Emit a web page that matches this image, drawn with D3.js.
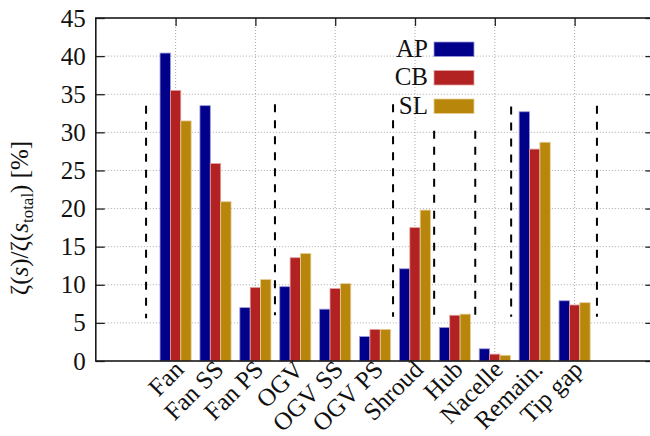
<!DOCTYPE html>
<html>
<head>
<meta charset="utf-8">
<script src="https://cdn.jsdelivr.net/npm/d3@7"></script>
<style>
  html, body { margin: 0; padding: 0; background: #fff; }
  svg { display: block; }
</style>
</head>
<body>
<svg id="chart" width="650" height="436"></svg>
<script>
// Loss-share data per component, three cases
const categories = ["Fan", "Fan SS", "Fan PS", "OGV", "OGV SS", "OGV PS",
                    "Shroud", "Hub", "Nacelle", "Remain.", "Tip gap"];
const seriesNames = ["AP", "CB", "SL"];
const apValues = [40.4, 33.5, 7.0, 9.75, 6.8, 3.2, 12.1, 4.4, 1.6, 32.7, 7.9];
const cbValues = [35.5, 25.9, 9.65, 13.55, 9.5, 4.15, 17.5, 6.0, 0.9, 27.8, 7.35];
const slValues = [31.5, 20.9, 10.7, 14.1, 10.15, 4.15, 19.8, 6.15, 0.75, 28.7, 7.65];
const yTicks = [0, 5, 10, 15, 20, 25, 30, 35, 40, 45];
const xGridTicks = [0, 2, 4, 6, 8, 10];
// Dashed separators: position on the category axis, upper and lower end
const sepX    = [-0.74, 2.49, 5.45, 6.48, 7.51, 8.41, 10.56];
const sepTop  = [33.5, 33.7, 33.7, 30.2, 30.2, 33.4, 33.5];
const sepBot  = [5.6, 6.0, 5.8, 6.0, 6.0, 5.8, 5.8];

const colors = ["#00008B", "#B22222", "#B8860B"];
const edgeColors = ["#9a9ad8", "#e2a0a0", "#e6cf98"];
const textFont = '"Liberation Serif"';

const svg = d3.select("#chart");
const plotL = 95.8, plotR = 654.4, plotT = 18, plotB = 361;

const x = d3.scaleLinear().domain([-2, 12]).range([plotL, plotR]);
const y = d3.scaleLinear().domain([0, 45]).range([plotB, plotT]);

const series = [apValues, cbValues, slValues];
const barW = 0.26;
const offsets = [-barW, 0, barW];

// dotted grid
const grid = svg.append("g").attr("stroke", "#a8a8a8").attr("stroke-width", 1)
  .attr("stroke-dasharray", "1,2");
grid.selectAll("line.h").data(yTicks.filter(v => v > 0 && v < 45)).join("line")
  .attr("class", "h")
  .attr("x1", plotL).attr("x2", plotR)
  .attr("y1", d => y(d)).attr("y2", d => y(d));
grid.selectAll("line.v").data(xGridTicks).join("line")
  .attr("class", "v")
  .attr("x1", d => x(d)).attr("x2", d => x(d))
  .attr("y1", plotT).attr("y2", plotB);

// axes with inward ticks
const fontSize = 25;
const yAxis = d3.axisLeft(y).tickValues(yTicks).tickSize(-9).tickPadding(10);
const gy = svg.append("g").attr("transform", `translate(${plotL},0)`).call(yAxis);
gy.select(".domain").remove();
gy.attr("font-family", null).attr("font-size", null);
gy.selectAll("text").style("font-family", textFont).style("font-size", fontSize + "px")
  .attr("fill", "#111");

const yAxisR = d3.axisRight(y).tickValues(yTicks).tickSize(-9).tickFormat("");
const gyr = svg.append("g").attr("transform", `translate(${plotR},0)`).call(yAxisR);
gyr.select(".domain").remove();

const xAxisTop = d3.axisTop(x).tickValues(xGridTicks).tickSize(-8).tickFormat("");
const gxt = svg.append("g").attr("transform", `translate(0,${plotT})`).call(xAxisTop);
gxt.select(".domain").remove();

svg.selectAll(".tick line").attr("stroke", "#222").attr("stroke-width", 1.3);

// bars
series.forEach((vals, s) => {
  svg.append("g").selectAll("rect").data(vals).join("rect")
    .attr("x", (d, i) => x(i + offsets[s] - barW / 2))
    .attr("width", (d, i) => x(i + offsets[s] + barW / 2) - x(i + offsets[s] - barW / 2))
    .attr("y", d => y(d))
    .attr("height", d => y(0) - y(d))
    .attr("fill", colors[s])
    .attr("stroke", edgeColors[s])
    .attr("stroke-width", 0.8);
});

// category labels along the bottom
const xAxisBottom = d3.axisBottom(x).tickValues(d3.range(categories.length))
  .tickSize(0).tickFormat(i => categories[i]);
const gxb = svg.append("g").attr("transform", `translate(0,${plotB})`).call(xAxisBottom);
gxb.select(".domain").remove();
gxb.attr("font-family", null).attr("font-size", null);
gxb.selectAll("text")
  .style("font-family", textFont).style("font-size", fontSize + "px")
  .attr("fill", "#111")
  .attr("text-anchor", "end")
  .attr("y", 0).attr("dy", 0)
  .attr("transform", "translate(9,10) rotate(-45)");

// frame
svg.append("rect")
  .attr("x", plotL).attr("y", plotT)
  .attr("width", plotR - plotL).attr("height", plotB - plotT)
  .attr("fill", "none").attr("stroke", "#1a1a1a").attr("stroke-width", 1.6);

// dashed separators
svg.append("g").selectAll("line").data(sepX).join("line")
  .attr("x1", d => x(d)).attr("x2", d => x(d))
  .attr("y1", (d, i) => y(sepTop[i])).attr("y2", (d, i) => y(sepBot[i]))
  .attr("stroke", "#000").attr("stroke-width", 2)
  .attr("stroke-dasharray", "8,8");

// legend
const legend = svg.append("g");
seriesNames.forEach((name, s) => {
  const by = 56.5 + s * 28.5;
  legend.append("text")
    .attr("x", 428).attr("y", by)
    .attr("text-anchor", "end")
    .style("font-family", textFont).style("font-size", fontSize + "px")
    .attr("fill", "#111")
    .text(name);
  legend.append("rect")
    .attr("x", 434).attr("y", by - 14.5)
    .attr("width", 40).attr("height", 14.5)
    .attr("fill", colors[s])
    .attr("stroke", edgeColors[s]).attr("stroke-width", 0.8);
});

// y-axis title
const yl = svg.append("text")
  .attr("transform", "translate(28,218) rotate(-90)")
  .attr("text-anchor", "middle")
  .style("font-family", textFont).style("font-size", fontSize + "px")
  .attr("fill", "#111");
yl.append("tspan").text("ζ(");
yl.append("tspan").style("font-style", "italic").text("s");
yl.append("tspan").text(")/ζ(");
yl.append("tspan").style("font-style", "italic").text("s");
yl.append("tspan").style("font-size", "17px").attr("dy", 5).text("total");
yl.append("tspan").attr("dy", -5).text(") [%]");
</script>
</body>
</html>
